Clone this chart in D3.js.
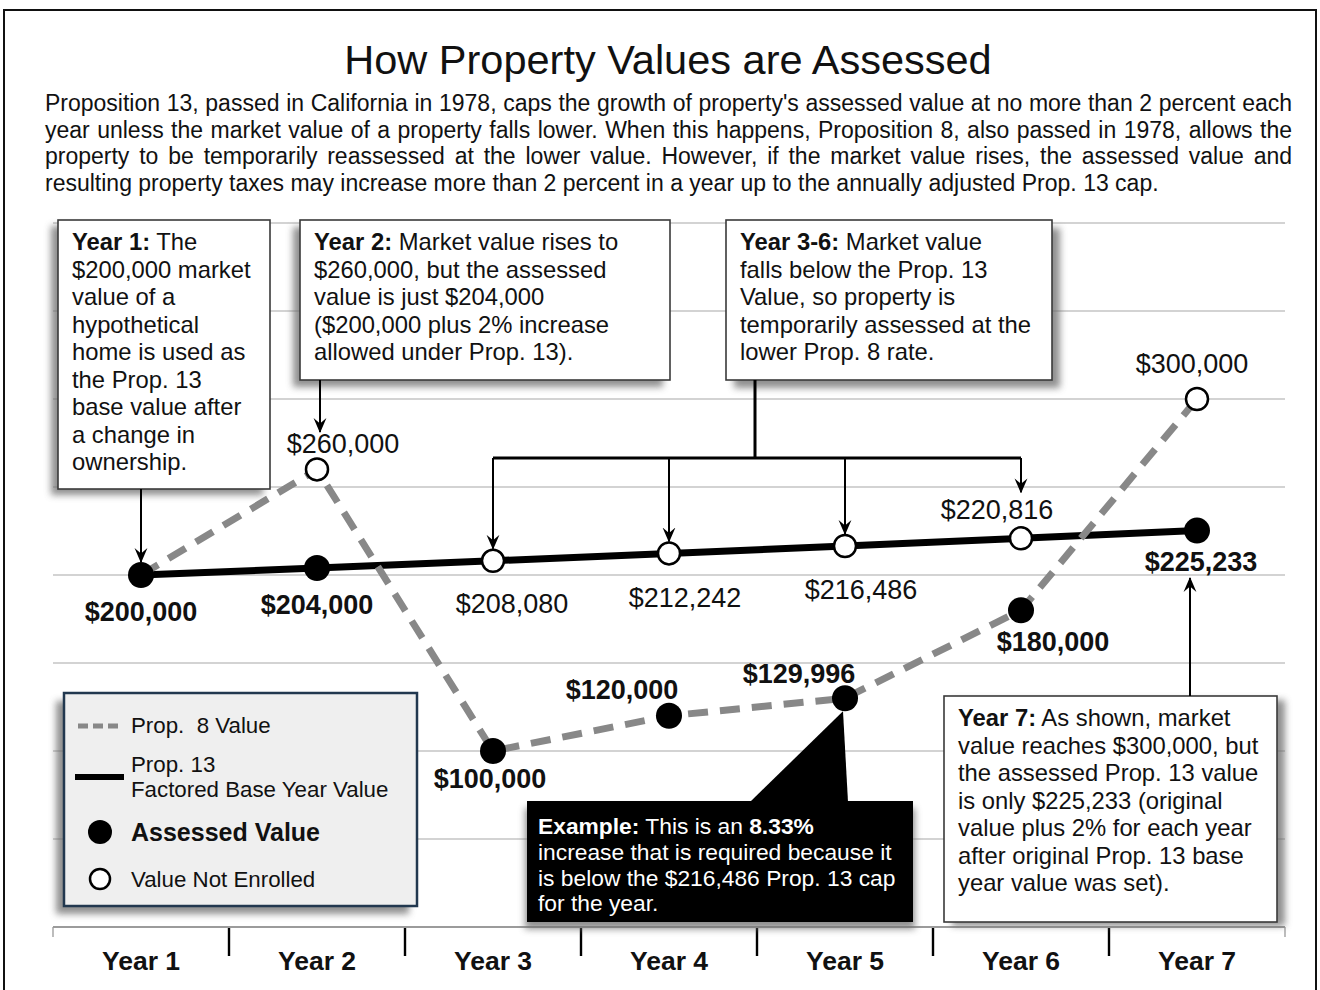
<!DOCTYPE html>
<html>
<head>
<meta charset="utf-8">
<script src="https://cdn.jsdelivr.net/npm/d3@7"></script>
<style>
body { margin: 0; background: #fff; }
text { font-family: "Liberation Sans", Arial, sans-serif; fill: #111; }
</style>
</head>
<body>
<div id="chart"></div>
<script>
////////////////////////////////////////////////////////////
//////////////////////// Data //////////////////////////////
////////////////////////////////////////////////////////////
var years = ["Year 1", "Year 2", "Year 3", "Year 4", "Year 5", "Year 6", "Year 7"];
var prop13Values = [200000, 204000, 208080, 212242, 216486, 220816, 225233];
var prop8Values = [200000, 260000, 100000, 120000, 129996, 180000, 300000];
// which series is the assessed value each year
var assessedFrom = ["13", "13", "8", "8", "8", "8", "13"];

var title = "How Property Values are Assessed";
var introLines = [
  "Proposition 13, passed in California in 1978, caps the growth of property's assessed value at no more than 2 percent each",
  "year unless the market value of a property falls lower. When this happens, Proposition 8, also passed in 1978, allows the",
  "property to be temporarily reassessed at the lower value. However, if the market value rises, the assessed value and",
  "resulting property taxes may increase more than 2 percent in a year up to the annually adjusted Prop. 13 cap."
];

////////////////////////////////////////////////////////////
//////////////////////// Set-Up ////////////////////////////
////////////////////////////////////////////////////////////
var width = 1320, height = 990;

var svg = d3.select("#chart").append("svg")
  .attr("width", width)
  .attr("height", height);

var defs = svg.append("defs");
defs.append("filter").attr("id", "blur")
  .attr("x", "-20%").attr("y", "-20%").attr("width", "140%").attr("height", "140%")
  .append("feGaussianBlur").attr("stdDeviation", 3.5);

defs.append("marker")
  .attr("id", "arrow")
  .attr("viewBox", "0 0 14 14")
  .attr("markerUnits", "userSpaceOnUse")
  .attr("markerWidth", 15).attr("markerHeight", 15)
  .attr("refX", 13).attr("refY", 7)
  .attr("orient", "auto")
  .append("path")
  .attr("d", "M0,1 L14,7 L0,13 L5,7 Z")
  .attr("fill", "#000");

// outer frame
svg.append("rect")
  .attr("x", 4).attr("y", 10)
  .attr("width", 1312).attr("height", 1000)
  .attr("fill", "none").attr("stroke", "#111").attr("stroke-width", 2);

// scales
var x = d3.scaleBand().domain(years).range([53, 1285]);
var y = d3.scaleLinear().domain([0, 400000]).range([927, 223]);
function cx(yr) { return x(yr) + x.bandwidth() / 2; }
var fmt = d3.format("$,");

////////////////////////////////////////////////////////////
//////////////////////// Title & intro /////////////////////
////////////////////////////////////////////////////////////
svg.append("text")
  .attr("x", 668).attr("y", 74)
  .attr("text-anchor", "middle")
  .style("font-size", "41.5px")
  .text(title);

// justified paragraph, word by word
var paraLeft = 45, paraRight = 1292, paraSize = "23px";
introLines.forEach(function(line, li) {
  var by = 111 + li * 26.7;
  if (li === introLines.length - 1) {
    svg.append("text").attr("x", paraLeft).attr("y", by)
      .style("font-size", paraSize).text(line);
    return;
  }
  var words = line.split(" ");
  var nodes = words.map(function(w) {
    return svg.append("text").attr("y", by).style("font-size", paraSize).text(w);
  });
  var widths = nodes.map(function(n) { return n.node().getComputedTextLength(); });
  var gap = (paraRight - paraLeft - d3.sum(widths)) / (words.length - 1);
  var pos = paraLeft;
  nodes.forEach(function(n, i) {
    n.attr("x", pos);
    pos += widths[i] + gap;
  });
});

////////////////////////////////////////////////////////////
//////////////////////// Grid & axis ///////////////////////
////////////////////////////////////////////////////////////
var grid = svg.append("g");
grid.selectAll("line")
  .data(y.ticks(8).filter(function(v) { return v > 0; }))
  .enter().append("line")
  .attr("x1", 53).attr("x2", 1285)
  .attr("y1", function(d) { return y(d); })
  .attr("y2", function(d) { return y(d); })
  .attr("stroke", "#c4c4c4").attr("stroke-width", 1.3);

var axis = svg.append("g");
axis.append("line")
  .attr("x1", 53).attr("x2", 1285)
  .attr("y1", y(0)).attr("y2", y(0))
  .attr("stroke", "#7a7a7a").attr("stroke-width", 1.6);
axis.selectAll(".sep")
  .data(years.slice(1))
  .enter().append("line")
  .attr("class", "sep")
  .attr("x1", function(d) { return x(d); })
  .attr("x2", function(d) { return x(d); })
  .attr("y1", y(0) + 1).attr("y2", y(0) + 29)
  .attr("stroke", "#000").attr("stroke-width", 2.4);
axis.selectAll(".end")
  .data([53, 1285])
  .enter().append("line")
  .attr("class", "end")
  .attr("x1", function(d) { return d; }).attr("x2", function(d) { return d; })
  .attr("y1", y(0)).attr("y2", y(0) + 10)
  .attr("stroke", "#999").attr("stroke-width", 1.3);
axis.selectAll(".yr")
  .data(years)
  .enter().append("text")
  .attr("class", "yr")
  .attr("x", function(d) { return cx(d); })
  .attr("y", 970)
  .attr("text-anchor", "middle")
  .style("font-size", "26.5px").style("font-weight", "bold")
  .text(function(d) { return d; });

////////////////////////////////////////////////////////////
//////////////////////// Lines /////////////////////////////
////////////////////////////////////////////////////////////
var line = d3.line()
  .x(function(d, i) { return cx(years[i]); })
  .y(function(d) { return y(d); });

svg.append("path")
  .attr("d", line(prop13Values))
  .attr("fill", "none").attr("stroke", "#000").attr("stroke-width", 7);

svg.append("path")
  .attr("d", line(prop8Values))
  .attr("fill", "none").attr("stroke", "#888").attr("stroke-width", 7)
  .attr("stroke-dasharray", "20,12");

////////////////////////////////////////////////////////////
//////////////////////// Points ////////////////////////////
////////////////////////////////////////////////////////////
var points = [];
years.forEach(function(yr, i) {
  var a = assessedFrom[i] === "13" ? prop13Values[i] : prop8Values[i];
  var other = assessedFrom[i] === "13" ? prop8Values[i] : prop13Values[i];
  points.push({ i: i, value: a, assessed: true });
  if (other !== a) points.push({ i: i, value: other, assessed: false });
});

// label placement: offset from point (dx, baseline dy)
var labelPlace = {
  "0-200000": [0, 46], "1-204000": [0, 46], "2-208080": [19, 52],
  "3-212242": [16, 54], "4-216486": [16, 53], "5-220816": [-24, -19],
  "6-225233": [4, 40], "1-260000": [26, -16], "6-300000": [-5, -26],
  "2-100000": [-3, 37], "3-120000": [-47, -17], "4-129996": [-46, -15],
  "5-180000": [32, 41]
};

svg.selectAll(".pt")
  .data(points)
  .enter().append("circle")
  .attr("class", "pt")
  .attr("cx", function(d) { return cx(years[d.i]); })
  .attr("cy", function(d) { return y(d.value); })
  .attr("r", function(d) { return d.assessed ? 13 : 11; })
  .attr("fill", function(d) { return d.assessed ? "#000" : "#fff"; })
  .attr("stroke", "#000")
  .attr("stroke-width", function(d) { return d.assessed ? 0 : 2.5; });

svg.selectAll(".lbl")
  .data(points)
  .enter().append("text")
  .attr("class", "lbl")
  .attr("x", function(d) { return cx(years[d.i]) + labelPlace[d.i + "-" + d.value][0]; })
  .attr("y", function(d) { return y(d.value) + labelPlace[d.i + "-" + d.value][1]; })
  .attr("text-anchor", "middle")
  .style("font-size", "27px")
  .style("font-weight", function(d) { return d.assessed ? "bold" : "normal"; })
  .text(function(d) { return fmt(d.value); });

////////////////////////////////////////////////////////////
//////////////////////// Annotations ///////////////////////
////////////////////////////////////////////////////////////
function richLine(g, str, tx, ty, size, color) {
  var t = g.append("text").attr("x", tx).attr("y", ty)
    .attr("xml:space", "preserve")
    .style("font-size", size + "px").style("fill", color);
  str.split("*").forEach(function(seg, k) {
    if (seg === "") return;
    t.append("tspan").style("font-weight", k % 2 ? "bold" : "normal").style("fill", color).text(seg);
  });
}

var boxes = [
  { x: 58, y: 220, w: 212, h: 269, sdx: -7, sdy: 6, size: 23.8,
    lines: ["*Year 1:* The", "$200,000 market", "value of a", "hypothetical", "home is used as",
            "the Prop. 13", "base value after", "a change in", "ownership."] },
  { x: 300, y: 220, w: 370, h: 160, sdx: -7, sdy: 7, size: 23.8,
    lines: ["*Year 2:* Market value rises to", "$260,000, but the assessed", "value is just $204,000",
            "($200,000 plus 2% increase", "allowed under Prop. 13)."] },
  { x: 726, y: 220, w: 326, h: 160, sdx: 8, sdy: 8, size: 23.8,
    lines: ["*Year 3-6:* Market value", "falls below the Prop. 13", "Value, so property is",
            "temporarily assessed at the", "lower Prop. 8 rate."] },
  { x: 944, y: 696, w: 333, h: 226, sdx: 8, sdy: 4, size: 23.8,
    lines: ["*Year 7:* As shown, market", "value reaches $300,000, but", "the assessed Prop. 13 value",
            "is only $225,233 (original", "value plus 2% for each year", "after original Prop. 13 base",
            "year value was set)."] }
];

boxes.forEach(function(b) {
  var g = svg.append("g");
  g.append("rect")
    .attr("x", b.x + b.sdx).attr("y", b.y + b.sdy).attr("width", b.w).attr("height", b.h)
    .attr("fill", "#6a6a6a").attr("opacity", 0.75).attr("filter", "url(#blur)");
  g.append("rect")
    .attr("x", b.x).attr("y", b.y).attr("width", b.w).attr("height", b.h)
    .attr("fill", "#fff").attr("stroke", "#3a3a3a").attr("stroke-width", 1.6);
  b.lines.forEach(function(l, k) {
    richLine(g, l, b.x + 14, b.y + 30 + k * 27.5, b.size, "#111");
  });
});

// example callout (black)
var ex = { x: 527, y: 801, w: 386, h: 121 };
var exPt = [cx(years[4]), y(prop8Values[4])];
var exG = svg.append("g");
var wedge = [[exPt[0] - 2, exPt[1] + 13], [750, ex.y + 1], [exPt[0] + 3, ex.y + 1]];
exG.append("rect")
  .attr("x", ex.x - 2).attr("y", ex.y + 7).attr("width", ex.w + 4).attr("height", ex.h)
  .attr("fill", "#6a6a6a").attr("opacity", 0.75).attr("filter", "url(#blur)");
exG.append("rect")
  .attr("x", ex.x).attr("y", ex.y).attr("width", ex.w).attr("height", ex.h)
  .attr("fill", "#000");
exG.append("path")
  .attr("d", "M" + wedge.join("L") + "Z")
  .attr("fill", "#000");
["*Example:* This is an *8.33%*", "increase that is required because it",
 "is below the $216,486 Prop. 13 cap", "for the year."].forEach(function(l, k) {
  richLine(exG, l, ex.x + 11, ex.y + 33 + k * 25.8, 22.8, "#fff");
});

// arrows
function arrow(x1, y1, x2, y2) {
  svg.append("line")
    .attr("x1", x1).attr("y1", y1).attr("x2", x2).attr("y2", y2)
    .attr("stroke", "#000").attr("stroke-width", 2)
    .attr("marker-end", "url(#arrow)");
}
arrow(cx(years[0]), 489, cx(years[0]), y(prop13Values[0]) - 13);
arrow(cx(years[1]) + 3, 380, cx(years[1]) + 3, 432);
arrow(cx(years[6]) - 7, 696, cx(years[6]) - 7, 578);

// bracket for Years 3-6
var brY = 458;
svg.append("path")
  .attr("d", "M755,380 L755," + brY + " M" + cx(years[2]) + "," + brY + " L" + cx(years[5]) + "," + brY)
  .attr("fill", "none").attr("stroke", "#000").attr("stroke-width", 3);
[2, 3, 4, 5].forEach(function(i) {
  var tip = i === 5 ? y(prop13Values[i]) - 46 : y(prop13Values[i]) - 12;
  arrow(cx(years[i]), brY, cx(years[i]), tip);
});

////////////////////////////////////////////////////////////
//////////////////////// Legend ////////////////////////////
////////////////////////////////////////////////////////////
var lg = svg.append("g");
lg.append("rect")
  .attr("x", 56).attr("y", 701).attr("width", 353).attr("height", 213)
  .attr("fill", "#6a6a6a").attr("opacity", 0.75).attr("filter", "url(#blur)");
lg.append("rect")
  .attr("x", 64).attr("y", 693).attr("width", 353).attr("height", 213)
  .attr("fill", "#efefef").attr("stroke", "#22384f").attr("stroke-width", 2.5);
lg.append("line")
  .attr("x1", 78).attr("x2", 123).attr("y1", 726).attr("y2", 726)
  .attr("stroke", "#888").attr("stroke-width", 5).attr("stroke-dasharray", "10,5");
lg.append("line")
  .attr("x1", 75).attr("x2", 124).attr("y1", 777).attr("y2", 777)
  .attr("stroke", "#000").attr("stroke-width", 6);
lg.append("circle").attr("cx", 100).attr("cy", 832).attr("r", 12).attr("fill", "#000");
lg.append("circle").attr("cx", 100).attr("cy", 879).attr("r", 10)
  .attr("fill", "#fff").attr("stroke", "#000").attr("stroke-width", 2.5);
var legendText = [
  ["Prop.  8 Value", 733, "normal", 22.3],
  ["Prop. 13", 772, "normal", 22.3],
  ["Factored Base Year Value", 797, "normal", 22.3],
  ["Assessed Value", 841, "bold", 25],
  ["Value Not Enrolled", 887, "normal", 22.3]
];
legendText.forEach(function(t) {
  lg.append("text").attr("x", 131).attr("y", t[1])
    .attr("xml:space", "preserve")
    .style("font-size", t[3] + "px").style("font-weight", t[2])
    .text(t[0]);
});
</script>
</body>
</html>
